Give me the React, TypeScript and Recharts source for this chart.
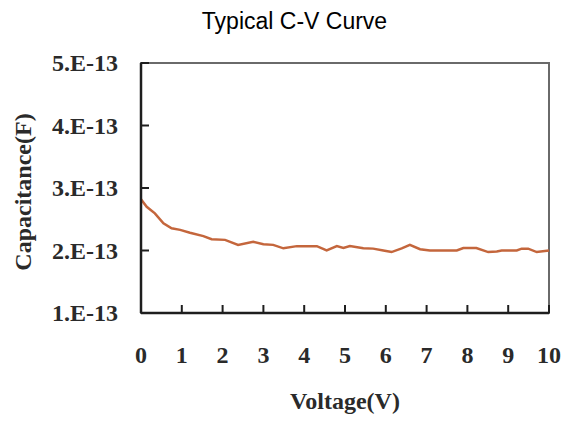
import React from 'react';
import { LineChart, Line, XAxis, YAxis, ReferenceArea, Label } from 'recharts';

const title = 'Typical C-V Curve';
const xLabel = 'Voltage(V)';
const yLabel = 'Capacitance(F)';

const voltage = [
  0, 0.14, 0.34, 0.55, 0.75, 0.96, 1.2, 1.53, 1.73, 2.06, 2.38, 2.75, 3.0, 3.24, 3.49,
  3.82, 4.31, 4.55, 4.8, 4.96, 5.12, 5.45, 5.69, 5.94, 6.14, 6.39, 6.59, 6.84, 7.08,
  7.74, 7.9, 8.22, 8.51, 8.72, 8.84, 9.21, 9.33, 9.49, 9.7, 10,
];
const capacitance = [
  2.82e-13, 2.7e-13, 2.595e-13, 2.435e-13, 2.355e-13, 2.33e-13, 2.285e-13, 2.23e-13,
  2.18e-13, 2.17e-13, 2.09e-13, 2.14e-13, 2.1e-13, 2.09e-13, 2.035e-13, 2.07e-13,
  2.07e-13, 2.0e-13, 2.07e-13, 2.04e-13, 2.07e-13, 2.035e-13, 2.03e-13, 2.0e-13,
  1.975e-13, 2.035e-13, 2.09e-13, 2.02e-13, 2.0e-13, 2.0e-13, 2.04e-13, 2.04e-13,
  1.975e-13, 1.985e-13, 2.0e-13, 2.0e-13, 2.03e-13, 2.03e-13, 1.975e-13, 2.0e-13,
];
const xTicks = [0, 1, 2, 3, 4, 5, 6, 7, 8, 9, 10];
const yTicks = [1e-13, 2e-13, 3e-13, 4e-13, 5e-13];

const data = voltage.map((v, i) => ({ v, c: capacitance[i] }));

const serif = "'Liberation Serif', 'Times New Roman', serif";
const textColor = '#2a2a2a';
const axisColor = '#1e1e1e';
const frameColor = '#6a6a6a';

const fmtY = (v: number) => `${Math.round(v * 1e13)}.E-13`;

const YTick = (props: any) => {
  const { x, y, payload } = props;
  return (
    <g>
      <line x1={x} x2={x + 8} y1={y} y2={y} stroke={axisColor} strokeWidth={2} />
      <text
        x={x - 23}
        y={y}
        dy="0.35em"
        textAnchor="end"
        fontFamily={serif}
        fontWeight="bold"
        fontSize={24}
        fill={textColor}
      >
        {fmtY(payload.value)}
      </text>
    </g>
  );
};

const XTick = (props: any) => {
  const { x, y, payload } = props;
  return (
    <g>
      <line x1={x} x2={x} y1={y} y2={y - 8} stroke={axisColor} strokeWidth={2} />
      <text
        x={x}
        y={y + 50}
        textAnchor="middle"
        fontFamily={serif}
        fontWeight="bold"
        fontSize={24}
        fill={textColor}
      >
        {payload.value}
      </text>
    </g>
  );
};

const XTitle = (props: any) => {
  const vb = props.viewBox;
  return (
    <text
      x={vb.x + vb.width / 2}
      y={vb.y + 96}
      textAnchor="middle"
      fontFamily={serif}
      fontWeight="bold"
      fontSize={24}
      fill={textColor}
    >
      {xLabel}
    </text>
  );
};

const YTitle = (props: any) => {
  const vb = props.viewBox;
  const cx = vb.x + 26;
  const cy = vb.y + vb.height / 2 + 4;
  return (
    <text
      x={cx}
      y={cy}
      transform={`rotate(-90, ${cx}, ${cy})`}
      textAnchor="middle"
      fontFamily={serif}
      fontWeight="bold"
      fontSize={24}
      fill={textColor}
    >
      {yLabel}
    </text>
  );
};

export default function App() {
  return (
    <div style={{ position: 'absolute', left: 0, top: 0, width: 571, height: 422, background: '#ffffff' }}>
      <div
        style={{
          position: 'absolute',
          left: 0,
          top: 9,
          width: 589,
          textAlign: 'center',
          fontFamily: "'Liberation Sans', Arial, sans-serif",
          fontSize: 23,
          color: '#000000',
          lineHeight: '25px',
        }}
      >
        {title}
      </div>
      <LineChart width={571} height={422} data={data} margin={{ top: 63, right: 22, bottom: 49, left: 5 }}>
        <ReferenceArea
          x1={0}
          x2={10}
          y1={1e-13}
          y2={5e-13}
          fill="none"
          stroke={frameColor}
          strokeWidth={2}
        />
        <XAxis
          dataKey="v"
          type="number"
          domain={[0, 10]}
          ticks={xTicks}
          interval={0}
          axisLine={{ stroke: axisColor, strokeWidth: 2.5 }}
          tickLine={false}
          tickSize={0}
          tickMargin={0}
          height={60}
          tick={<XTick />}
        >
          <Label content={<XTitle />} />
        </XAxis>
        <YAxis
          type="number"
          domain={[1e-13, 5e-13]}
          ticks={yTicks}
          interval={0}
          axisLine={{ stroke: axisColor, strokeWidth: 2.5 }}
          tickLine={false}
          tickSize={0}
          tickMargin={0}
          width={136}
          tick={<YTick />}
        >
          <Label content={<YTitle />} />
        </YAxis>
        <Line
          dataKey="c"
          type="linear"
          stroke="#c4663c"
          strokeWidth={2.5}
          dot={false}
          isAnimationActive={false}
        />
      </LineChart>
    </div>
  );
}
